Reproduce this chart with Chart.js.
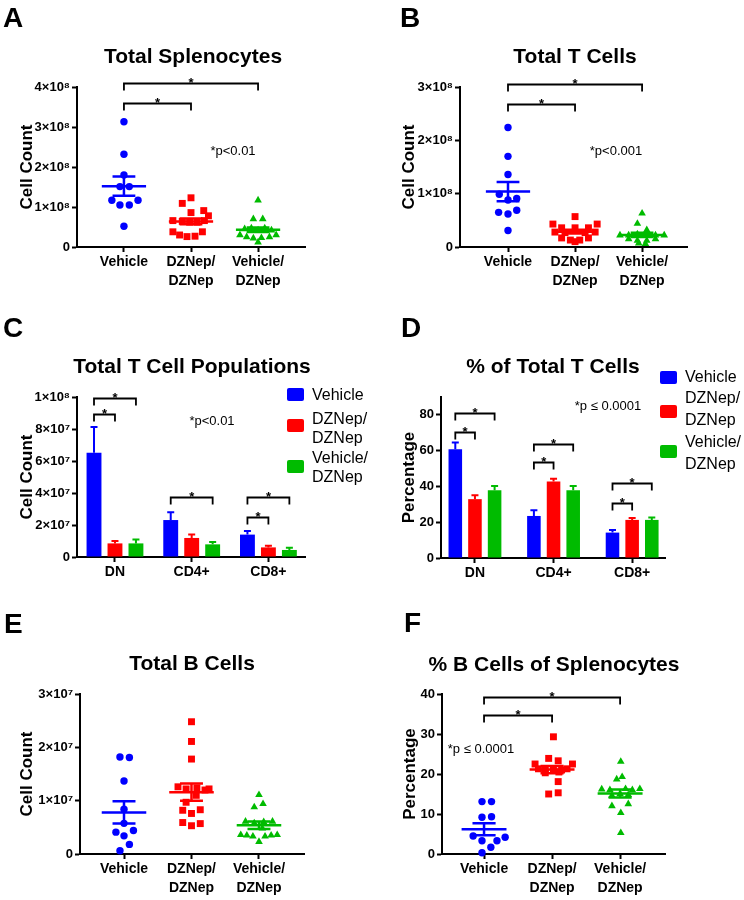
<!DOCTYPE html>
<html>
<head>
<meta charset="utf-8">
<script src="https://cdn.jsdelivr.net/npm/chart.js@4.4.1/dist/chart.umd.min.js"></script>
<style>
body { margin: 0; background: #fff; }
#page { position: relative; width: 744px; height: 900px; overflow: hidden; font-family: Arial, "Liberation Sans", sans-serif; color: #000; }
canvas { position: absolute; }
.txt { position: absolute; white-space: nowrap; line-height: 1; transform: translate(-50%, -50%); }
.letter { position: absolute; font-weight: bold; font-size: 28px; line-height: 1; transform: translateY(-50%); }
.title { font-weight: bold; font-size: 21px; }
.pval { font-size: 13px; }
.legtxt { position: absolute; font-size: 16px; white-space: nowrap; }
.legbox { position: absolute; width: 17px; height: 13px; border-radius: 2px; }
</style>
</head>
<body>
<div id="page"></div>
<script>
// ---- shared ----
const groupLabels = ['Vehicle', ['DZNep/', 'DZNep'], ['Vehicle/', 'DZNep']];
const popLabels = ['DN', 'CD4+', 'CD8+'];
const legendLabels = [['Vehicle'], ['DZNep/', 'DZNep'], ['Vehicle/', 'DZNep']];

// ---- A : Total Splenocytes ----
const aVehicle = [3.13e8, 2.32e8, 1.80e8, 1.51e8, 1.51e8, 1.17e8, 1.05e8, 1.05e8, 1.17e8, 0.52e8];
const aVehicleX = [0, 0, 0, -0.06, 0.08, -0.18, -0.06, 0.08, 0.21, 0];
const aDznep = [1.23e8, 1.09e8, 0.86e8, 0.91e8, 0.78e8, 0.66e8, 0.64e8, 0.62e8, 0.62e8, 0.66e8, 0.38e8, 0.30e8, 0.26e8, 0.27e8, 0.38e8];
const aDznepX = [0, -0.13, 0, 0.19, 0.26, -0.27, -0.13, -0.02, 0.09, 0.2, -0.27, -0.17, -0.06, 0.06, 0.17];
const aVehDz = [1.17e8, 0.70e8, 0.70e8, 0.45e8, 0.47e8, 0.42e8, 0.47e8, 0.42e8, 0.30e8, 0.25e8, 0.22e8, 0.23e8, 0.25e8, 0.30e8, 0.12e8];
const aVehDzX = [0, -0.07, 0.07, -0.2, -0.1, 0, 0.1, 0.2, -0.27, -0.17, -0.07, 0.05, 0.17, 0.27, 0];
const aMean = [1.52e8, 0.64e8, 0.43e8];
const aSem = [0.24e8, 0.07e8, 0.055e8];
const aYTicks = [0, 1e8, 2e8, 3e8, 4e8];
const aYLabels = ['0', '1×10⁸', '2×10⁸', '3×10⁸', '4×10⁸'];
const aSig = [[0, 1, 3.6e8], [0, 2, 4.1e8]];

// ---- B : Total T Cells ----
const bVehicle = [2.24e8, 1.70e8, 1.36e8, 0.99e8, 0.91e8, 0.88e8, 0.65e8, 0.62e8, 0.69e8, 0.31e8];
const bVehicleX = [0, 0, 0, -0.13, 0.13, 0, -0.14, 0, 0.13, 0];
const bDznep = [0.57e8, 0.43e8, 0.43e8, 0.36e8, 0.36e8, 0.36e8, 0.28e8, 0.27e8, 0.27e8, 0.28e8, 0.17e8, 0.13e8, 0.13e8, 0.17e8, 0.10e8];
const bDznepX = [0, -0.33, 0.33, -0.2, 0, 0.2, -0.3, -0.15, 0.15, 0.3, -0.2, -0.07, 0.07, 0.2, 0];
const bVehDz = [0.63e8, 0.44e8, 0.32e8, 0.22e8, 0.22e8, 0.24e8, 0.22e8, 0.22e8, 0.22e8, 0.15e8, 0.12e8, 0.12e8, 0.15e8, 0.07e8, 0.06e8];
const bVehDzX = [0, -0.07, 0.07, -0.33, -0.2, -0.07, 0.07, 0.2, 0.33, -0.2, -0.07, 0.07, 0.2, -0.05, 0.05];
const bMean = [1.04e8, 0.287e8, 0.227e8];
const bSem = [0.18e8, 0.035e8, 0.04e8];
const bYTicks = [0, 1e8, 2e8, 3e8];
const bYLabels = ['0', '1×10⁸', '2×10⁸', '3×10⁸'];
const bSig = [[0, 1, 2.68e8], [0, 2, 3.06e8]];

// ---- C : Total T Cell Populations (bars, mean + SEM) ----
const cVehicle = [6.52e7, 2.31e7, 1.40e7];
const cDznep = [0.85e7, 1.19e7, 0.60e7];
const cVehDz = [0.85e7, 0.79e7, 0.44e7];
const cVehicleSem = [1.6e7, 0.48e7, 0.22e7];
const cDznepSem = [0.15e7, 0.21e7, 0.11e7];
const cVehDzSem = [0.25e7, 0.15e7, 0.14e7];
const cYTicks = [0, 2e7, 4e7, 6e7, 8e7, 1e8];
const cYLabels = ['0', '2×10⁷', '4×10⁷', '6×10⁷', '8×10⁷', '1×10⁸'];
// [population, from series, to series, height]
const cSig = [[0, 0, 1, 8.94e7], [0, 0, 2, 9.92e7], [1, 0, 2, 3.73e7], [2, 0, 1, 2.52e7], [2, 0, 2, 3.73e7]];

// ---- D : % of Total T Cells ----
const dVehicle = [60.8, 23.5, 14.2];
const dDznep = [32.9, 42.8, 21.3];
const dVehDz = [37.9, 37.9, 21.3];
const dVehicleSem = [3.7, 3.2, 1.5];
const dDznepSem = [2.2, 1.5, 1.1];
const dVehDzSem = [2.3, 2.3, 1.3];
const dYTicks = [0, 20, 40, 60, 80];
const dYLabels = ['0', '20', '40', '60', '80'];
const dSig = [[0, 0, 1, 70.6], [0, 0, 2, 80.9], [1, 0, 1, 53.5], [1, 0, 2, 63.7], [2, 0, 1, 31.0], [2, 0, 2, 41.7]];

// ---- E : Total B Cells ----
const eVehicle = [1.82e7, 1.81e7, 1.37e7, 0.84e7, 0.575e7, 0.41e7, 0.44e7, 0.34e7, 0.18e7, 0.06e7];
const eVehicleX = [-0.06, 0.08, 0, 0, 0, -0.12, 0.14, 0, 0.08, -0.06];
const eDznep = [2.48e7, 2.11e7, 1.78e7, 1.26e7, 1.22e7, 1.24e7, 1.20e7, 1.22e7, 1.10e7, 0.97e7, 0.82e7, 0.76e7, 0.83e7, 0.59e7, 0.53e7, 0.57e7];
const eDznepX = [0, 0, 0, -0.2, -0.08, 0.08, 0.2, 0.26, 0.07, -0.08, -0.13, 0, 0.13, -0.13, 0, 0.13];
const eVehDz = [1.11e7, 0.88e7, 0.94e7, 0.61e7, 0.58e7, 0.60e7, 0.61e7, 0.48e7, 0.36e7, 0.35e7, 0.33e7, 0.33e7, 0.35e7, 0.36e7, 0.23e7];
const eVehDzX = [0, -0.07, 0.06, -0.2, -0.07, 0.07, 0.2, 0.05, -0.27, -0.18, -0.09, 0.09, 0.18, 0.27, 0];
const eMean = [0.78e7, 1.16e7, 0.54e7];
const eSem = [0.21e7, 0.16e7, 0.07e7];
const eYTicks = [0, 1e7, 2e7, 3e7];
const eYLabels = ['0', '1×10⁷', '2×10⁷', '3×10⁷'];
const eSig = [];

// ---- F : % B Cells of Splenocytes ----
const fVehicle = [13.1, 13.1, 9.2, 9.3, 4.5, 4.2, 3.3, 3.3, 1.7, 0.3];
const fVehicleX = [-0.03, 0.11, -0.03, 0.11, -0.16, 0.31, -0.03, 0.19, 0.1, -0.03];
const fDznep = [29.3, 22.5, 23.9, 23.3, 22.5, 21.3, 21.0, 21.2, 21.0, 21.3, 20.3, 20.5, 18.1, 15.0, 15.3];
const fDznepX = [0.02, -0.25, -0.05, 0.09, 0.3, -0.2, -0.1, 0.02, 0.14, 0.22, -0.1, 0.1, 0.09, -0.05, 0.09];
const fVehDz = [23.1, 18.7, 19.3, 16.2, 16.0, 16.3, 16.0, 16.3, 14.6, 14.8, 15.0, 12.0, 12.5, 10.3, 5.3];
const fVehDzX = [0.01, -0.05, 0.03, -0.27, -0.15, 0.08, 0.18, 0.29, -0.12, 0.12, 0, -0.12, 0.12, 0.01, 0.01];
const fMean = [6.2, 21.1, 15.1];
const fSem = [1.5, 0.9, 1.0];
const fYTicks = [0, 10, 20, 30, 40];
const fYLabels = ['0', '10', '20', '30', '40'];
const fSig = [[0, 1, 34.75], [0, 2, 39.3]];

// ---- styles ----
const FONT = 'Arial, "Liberation Sans", sans-serif';
const colors = ['#0000ff', '#ff0000', '#00bb00'];
const pointStyles = ['circle', 'rect', 'triangle'];
const pointRadii = [3.7, 4.9, 4.4];
const page = document.getElementById('page');

function addText(str, x, y, cls) {
  const d = document.createElement('div');
  d.className = cls;
  d.textContent = str;
  d.style.left = x + 'px';
  d.style.top = y + 'px';
  page.appendChild(d);
}

function makeCanvas(box) {
  const c = document.createElement('canvas');
  c.width = box.w; c.height = box.h;
  c.style.left = box.x + 'px'; c.style.top = box.y + 'px';
  c.style.width = box.w + 'px'; c.style.height = box.h + 'px';
  page.appendChild(c);
  return c;
}

function tickGrid() {
  // tick marks only, sitting on the values (not between bars)
  return { offset: false, drawOnChartArea: false, drawTicks: true, tickLength: 5, tickWidth: 2, tickColor: '#000', color: '#000' };
}

function buildOptions(p) {
  // y-axis title is centred at p.yTitleX, line height 17*1.2
  const padLeft = p.yTitleX - p.box.x - 10.2;
  const yW = p.area.l - p.box.x - padLeft;
  return {
    responsive: false,
    animation: false,
    devicePixelRatio: 1,
    events: [],
    layout: {
      padding: {
        left: padLeft,
        top: p.area.t - p.box.y,
        right: p.box.x + p.box.w - p.area.r,
        bottom: p.box.y + p.box.h - p.area.b - p.xH
      }
    },
    plugins: { legend: { display: false }, tooltip: { enabled: false }, title: { display: false } },
    scales: {
      x: {
        type: 'linear', position: 'bottom', offset: false,
        min: p.xMin, max: p.xMax,
        afterBuildTicks: s => { s.ticks = p.xLabels.map((l, i) => ({ value: i })); },
        afterFit: s => { s.height = p.xH; s.paddingLeft = 0; s.paddingRight = 0; },
        ticks: {
          font: { family: FONT, size: 14, weight: 'bold', lineHeight: '19px' },
          color: '#000', padding: 1, maxRotation: 0, autoSkip: false,
          callback: v => p.xLabels[v]
        },
        grid: tickGrid(),
        border: { display: true, color: '#000', width: 2 }
      },
      y: {
        type: 'linear', position: 'left',
        min: p.yTicks[0], max: p.yMax,
        afterBuildTicks: s => { s.ticks = p.yTicks.map(v => ({ value: v })); },
        afterFit: s => { s.width = yW; s.paddingTop = 0; s.paddingBottom = 0; },
        ticks: {
          font: { family: FONT, size: 13, weight: 'bold' },
          color: '#000', padding: 2,
          callback: (v, i) => p.yLabels[i]
        },
        grid: tickGrid(),
        border: { display: true, color: '#000', width: 2 },
        title: {
          display: true, text: p.yTitle, color: '#000', padding: 0,
          font: { family: FONT, size: 17, weight: 'bold' }
        }
      }
    }
  };
}

// significance brackets; ends() gives the two x pixels
function bracketPlugin(items, ends) {
  return {
    id: 'brackets',
    afterDraw(chart) {
      const ctx = chart.ctx, ys = chart.scales.y;
      ctx.save();
      ctx.strokeStyle = '#000';
      ctx.fillStyle = '#000';
      ctx.lineWidth = 1.8;
      ctx.font = 'bold 13px ' + FONT;
      ctx.textAlign = 'center';
      ctx.textBaseline = 'alphabetic';
      items.forEach(b => {
        const [x1, x2] = ends(chart, b);
        const y = Math.round(ys.getPixelForValue(b[b.length - 1])) + 0.5;
        ctx.beginPath();
        ctx.moveTo(x1, y + 7);
        ctx.lineTo(x1, y);
        ctx.lineTo(x2, y);
        ctx.lineTo(x2, y + 7);
        ctx.stroke();
        ctx.fillText('*', (x1 + x2) / 2, y + 3);
      });
      ctx.restore();
    }
  };
}

// mean line + SEM whiskers for the dot plots
function meanPlugin(means, sems) {
  return {
    id: 'meanSem',
    afterDatasetsDraw(chart) {
      const ctx = chart.ctx, xs = chart.scales.x, ys = chart.scales.y;
      ctx.save();
      ctx.lineWidth = 2.5;
      means.forEach((m, g) => {
        ctx.strokeStyle = colors[g];
        const yM = ys.getPixelForValue(m);
        const yHi = ys.getPixelForValue(m + sems[g]);
        const yLo = ys.getPixelForValue(m - sems[g]);
        ctx.beginPath();
        ctx.moveTo(xs.getPixelForValue(g - 0.33), yM);
        ctx.lineTo(xs.getPixelForValue(g + 0.33), yM);
        ctx.moveTo(xs.getPixelForValue(g - 0.17), yHi);
        ctx.lineTo(xs.getPixelForValue(g + 0.17), yHi);
        ctx.moveTo(xs.getPixelForValue(g - 0.17), yLo);
        ctx.lineTo(xs.getPixelForValue(g + 0.17), yLo);
        ctx.moveTo(xs.getPixelForValue(g), yHi);
        ctx.lineTo(xs.getPixelForValue(g), yLo);
        ctx.stroke();
      });
      ctx.restore();
    }
  };
}

// upper error bars on the bar charts
function errorPlugin(sems) {
  return {
    id: 'errorBars',
    beforeDatasetsDraw(chart) {
      const ctx = chart.ctx, ys = chart.scales.y;
      ctx.save();
      ctx.lineWidth = 2;
      chart.data.datasets.forEach((ds, j) => {
        ctx.strokeStyle = colors[j];
        chart.getDatasetMeta(j).data.forEach((el, i) => {
          const top = ys.getPixelForValue(ds.data[i].y + sems[j][i]);
          ctx.beginPath();
          ctx.moveTo(el.x, el.y);
          ctx.lineTo(el.x, top);
          ctx.moveTo(el.x - 3.5, top);
          ctx.lineTo(el.x + 3.5, top);
          ctx.stroke();
        });
      });
      ctx.restore();
    }
  };
}

function dotChart(p, values, jitters, means, sems, sig) {
  const datasets = values.map((vals, g) => ({
    data: vals.map((v, k) => ({ x: g + jitters[g][k], y: v })),
    pointStyle: pointStyles[g],
    pointRadius: pointRadii[g],
    backgroundColor: colors[g],
    borderColor: colors[g],
    borderWidth: 0,
    showLine: false,
    clip: false
  }));
  const ends = (chart, b) => [chart.scales.x.getPixelForValue(b[0]), chart.scales.x.getPixelForValue(b[1])];
  new Chart(makeCanvas(p.box), {
    type: 'scatter',
    data: { datasets },
    options: buildOptions(p),
    plugins: [meanPlugin(means, sems), bracketPlugin(sig, ends)]
  });
}

function barChart(p, values, sems, sig, catPct, barPct) {
  const datasets = values.map((vals, j) => ({
    data: vals.map((v, i) => ({ x: i, y: v })),
    backgroundColor: colors[j],
    borderWidth: 0,
    categoryPercentage: catPct,
    barPercentage: barPct
  }));
  const ends = (chart, b) => [chart.getDatasetMeta(b[1]).data[b[0]].x, chart.getDatasetMeta(b[2]).data[b[0]].x];
  new Chart(makeCanvas(p.box), {
    type: 'bar',
    data: { datasets },
    options: buildOptions(p),
    plugins: [errorPlugin(sems), bracketPlugin(sig, ends)]
  });
}

function legend(x, entries) {
  entries.forEach((e, j) => {
    const b = document.createElement('div');
    b.className = 'legbox';
    b.style.background = colors[j];
    b.style.left = x + 'px';
    b.style.top = (e.box - 6.5) + 'px';
    page.appendChild(b);
    const t = document.createElement('div');
    t.className = 'legtxt';
    t.style.left = (x + 25) + 'px';
    t.style.top = (e.text - e.gap / 2) + 'px';
    t.style.lineHeight = e.gap + 'px';
    t.innerHTML = legendLabels[j].join('<br>');
    page.appendChild(t);
  });
}

// ---- panels ----
dotChart({
  box: { x: 0, y: 0, w: 372, h: 300 }, area: { l: 77, t: 87, r: 305, b: 247 },
  yTitleX: 27, xH: 50, xMin: -0.70, xMax: 2.70, yMax: 4e8,
  xLabels: groupLabels, yTicks: aYTicks, yLabels: aYLabels, yTitle: 'Cell Count'
}, [aVehicle, aDznep, aVehDz], [aVehicleX, aDznepX, aVehDzX], aMean, aSem, aSig);

dotChart({
  box: { x: 372, y: 0, w: 372, h: 300 }, area: { l: 460, t: 87, r: 687, b: 247 },
  yTitleX: 409.5, xH: 50, xMin: -0.716, xMax: 2.67, yMax: 3e8,
  xLabels: groupLabels, yTicks: bYTicks, yLabels: bYLabels, yTitle: 'Cell Count'
}, [bVehicle, bDznep, bVehDz], [bVehicleX, bDznepX, bVehDzX], bMean, bSem, bSig);

barChart({
  box: { x: 0, y: 290, w: 372, h: 300 }, area: { l: 77, t: 397, r: 305, b: 557 },
  yTitleX: 27, xH: 30, xMin: -0.495, xMax: 2.477, yMax: 1e8,
  xLabels: popLabels, yTicks: cYTicks, yLabels: cYLabels, yTitle: 'Cell Count'
}, [cVehicle, cDznep, cVehDz], [cVehicleSem, cDznepSem, cVehDzSem], cSig, 0.82, 0.71);

barChart({
  box: { x: 372, y: 290, w: 372, h: 300 }, area: { l: 441, t: 397, r: 665, b: 558 },
  yTitleX: 409.5, xH: 30, xMin: -0.432, xMax: 2.418, yMax: 90,
  xLabels: popLabels, yTicks: dYTicks, yLabels: dYLabels, yTitle: 'Percentage'
}, [dVehicle, dDznep, dVehDz], [dVehicleSem, dDznepSem, dVehDzSem], dSig, 0.75, 0.69);

dotChart({
  box: { x: 0, y: 580, w: 372, h: 320 }, area: { l: 80, t: 694, r: 304, b: 854 },
  yTitleX: 27, xH: 44, xMin: -0.652, xMax: 2.667, yMax: 3e7,
  xLabels: groupLabels, yTicks: eYTicks, yLabels: eYLabels, yTitle: 'Cell Count'
}, [eVehicle, eDznep, eVehDz], [eVehicleX, eDznepX, eVehDzX], eMean, eSem, eSig);

dotChart({
  box: { x: 372, y: 580, w: 372, h: 320 }, area: { l: 442, t: 694, r: 665, b: 854 },
  yTitleX: 410, xH: 44, xMin: -0.618, xMax: 2.66, yMax: 40,
  xLabels: groupLabels, yTicks: fYTicks, yLabels: fYLabels, yTitle: 'Percentage'
}, [fVehicle, fDznep, fVehDz], [fVehicleX, fDznepX, fVehDzX], fMean, fSem, fSig);

// ---- text ----
addText('A', 3, 18.3, 'letter');
addText('B', 400, 18.3, 'letter');
addText('C', 3, 327.5, 'letter');
addText('D', 401, 327.5, 'letter');
addText('E', 4, 624, 'letter');
addText('F', 404, 623, 'letter');

addText('Total Splenocytes', 193, 55, 'txt title');
addText('Total T Cells', 575, 55, 'txt title');
addText('Total T Cell Populations', 192, 365, 'txt title');
addText('% of Total T Cells', 553, 365, 'txt title');
addText('Total B Cells', 192, 662, 'txt title');
addText('% B Cells of Splenocytes', 554, 663, 'txt title');

addText('*p<0.01', 233, 150, 'txt pval');
addText('*p<0.001', 616, 149.5, 'txt pval');
addText('*p<0.01', 212, 420, 'txt pval');
addText('*p ≤ 0.0001', 608, 405, 'txt pval');
addText('*p ≤ 0.0001', 481, 748, 'txt pval');

legend(287, [
  { box: 394, text: 394, gap: 19 },
  { box: 425, text: 418, gap: 19 },
  { box: 466, text: 457, gap: 19 }
]);
legend(660, [
  { box: 377, text: 377, gap: 22 },
  { box: 411, text: 398, gap: 22 },
  { box: 451, text: 442, gap: 22 }
]);
</script>
</body>
</html>
